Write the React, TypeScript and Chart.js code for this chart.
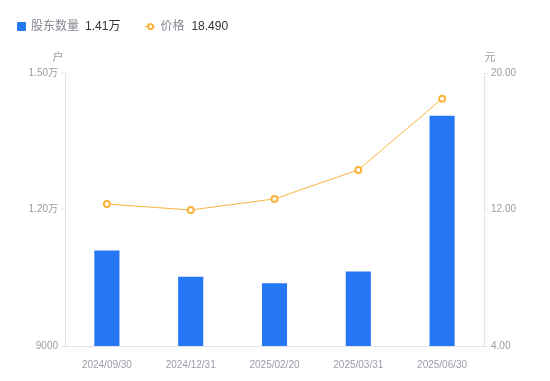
import React, { useEffect, useRef } from "react";
import { Chart, registerables } from "chart.js";

Chart.register(...registerables);

const categories = ["2024/09/30", "2024/12/31", "2025/02/20", "2025/03/31", "2025/06/30"];
const holders = [11100, 10520, 10380, 10640, 14060];
const prices = [12.32, 11.97, 12.62, 14.32, 18.49];
const holderTicks = [9000, 12000, 15000];
const priceTicks = [4, 12, 20];

const FONT = '"Liberation Sans", "Noto Sans CJK SC", Arial, sans-serif';
const BLUE = "#2677f6";
const ORANGE = "#f9b43a";
const TICK_COLOR = "#9a9da8";
const AXIS_COLOR = "#e3e4e8";

const fmtHolder = (v: number) => (v >= 10000 ? (v / 10000).toFixed(2) + "万" : String(v));

const titlePlugin = {
  id: "axisTitles",
  afterDraw(chart: any) {
    const ctx = chart.ctx;
    const area = chart.chartArea;
    ctx.save();
    ctx.font = `11px ${FONT}`;
    ctx.fillStyle = TICK_COLOR;
    ctx.textAlign = "center";
    ctx.textBaseline = "middle";
    ctx.fillText("户", area.left - 7, area.top - 15);
    ctx.fillText("元", area.right + 6, area.top - 15);
    ctx.restore();
  },
};

export default function App() {
  const ref = useRef<HTMLCanvasElement>(null);
  useEffect(() => {
    document.body.style.margin = "0";
    const chart = new Chart(ref.current!, {
      type: "bar",
      data: {
        labels: categories,
        datasets: [
          {
            type: "line",
            label: "价格",
            data: prices,
            yAxisID: "y1",
            borderColor: ORANGE,
            borderWidth: 1,
            pointRadius: 3,
            pointBorderWidth: 2,
            pointBackgroundColor: "#fff",
            pointBorderColor: ORANGE,
            tension: 0,
            order: 0,
          } as any,
          {
            type: "bar",
            label: "股东数量",
            data: holders,
            yAxisID: "y",
            backgroundColor: BLUE,
            categoryPercentage: 1,
            barPercentage: 0.3,
            order: 1,
          },
        ],
      },
      options: {
        responsive: false,
        animation: false,
        layout: { padding: { top: 73, bottom: 0, left: 0, right: 0 } },
        plugins: { legend: { display: false }, tooltip: { enabled: false } },
        scales: {
          x: {
            grid: { display: false },
            border: { color: AXIS_COLOR },
            ticks: { color: TICK_COLOR, font: { size: 10, family: FONT }, padding: 5, maxRotation: 0 },
            afterFit(s: any) { s.height = 35; },
          },
          y: {
            position: "left",
            min: 9000,
            max: 15000,
            afterBuildTicks(s: any) { s.ticks = holderTicks.map((v) => ({ value: v })); },
            grid: { drawOnChartArea: false, tickLength: 4, color: AXIS_COLOR },
            border: { color: AXIS_COLOR },
            ticks: { color: TICK_COLOR, font: { size: 10, family: FONT }, padding: 3, callback: (v: any) => fmtHolder(Number(v)) },
            afterFit(s: any) { s.width = 65; },
          },
          y1: {
            position: "right",
            min: 4,
            max: 20,
            afterBuildTicks(s: any) { s.ticks = priceTicks.map((v) => ({ value: v })); },
            grid: { drawOnChartArea: false, tickLength: 4, color: AXIS_COLOR },
            border: { color: AXIS_COLOR },
            ticks: { color: TICK_COLOR, font: { size: 10, family: FONT }, padding: 3, callback: (v: any) => Number(v).toFixed(2) },
            afterFit(s: any) { s.width = 66; },
          },
        },
      },
      plugins: [titlePlugin],
    });
    return () => chart.destroy();
  }, []);

  const lastHolder = holders[holders.length - 1];
  const lastPrice = prices[prices.length - 1];

  return (
    <div style={{ position: "relative", width: 550, height: 381, fontFamily: FONT }}>
      <canvas ref={ref} width={550} height={381} style={{ position: "absolute", left: 0, top: 0 }} />
      <div style={{ position: "absolute", left: 17, top: 18, display: "flex", alignItems: "center", fontSize: 12, lineHeight: "16px" }}>
        <span style={{ display: "inline-block", width: 9, height: 9, background: BLUE, borderRadius: 1, marginRight: 5 }} />
        <span style={{ color: "#858892" }}>股东数量</span>
        <span style={{ color: "#333", marginLeft: 6 }}>{(lastHolder / 10000).toFixed(2)}万</span>
        <span style={{ position: "relative", display: "inline-block", width: 10, height: 9, marginLeft: 25, marginRight: 5 }}>
          <span style={{ position: "absolute", left: 0, top: 4, width: 10, height: 1, background: ORANGE }} />
          <span style={{ position: "absolute", left: 2, top: 1, width: 3, height: 3, border: `2px solid ${ORANGE}`, borderRadius: "50%", background: "#fff" }} />
        </span>
        <span style={{ color: "#858892" }}>价格</span>
        <span style={{ color: "#333", marginLeft: 7 }}>{lastPrice.toFixed(3)}</span>
      </div>
    </div>
  );
}
